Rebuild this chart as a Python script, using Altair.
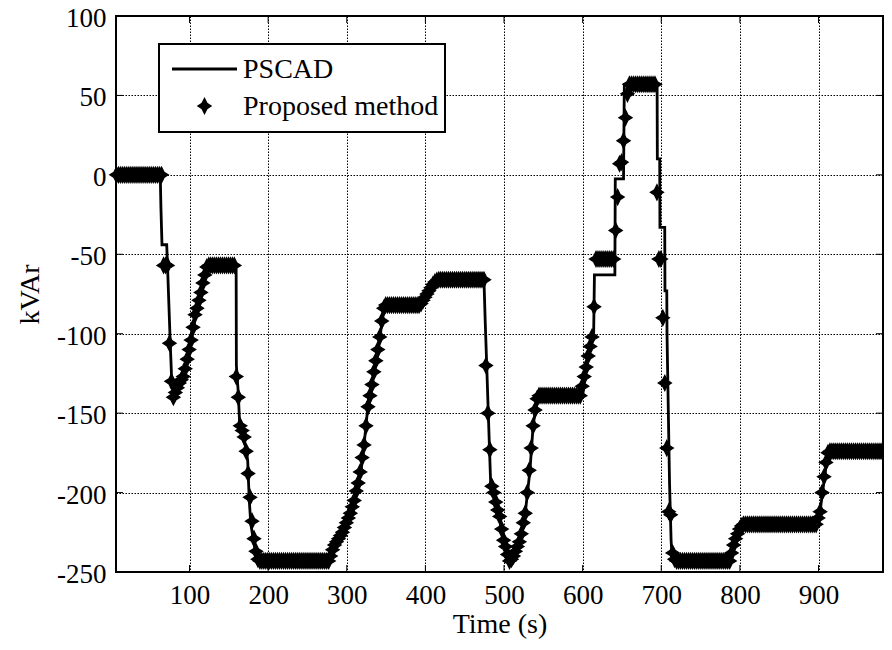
import altair as alt
import pandas as pd

# ---------------- data ----------------
# PSCAD reference trace (breakpoints, time in s, reactive power in kVAr)
line_t = [6.5, 62.8, 63.6, 65, 71, 72, 75.5, 77, 79, 81, 85, 90, 95, 100, 105, 110, 115, 120, 123,
          159.3, 159.6, 162, 164, 172, 174, 176, 178, 182, 185, 187, 278, 283, 295, 305, 312, 318,
          322, 326, 332, 340, 345, 348, 393, 405, 417, 474.5, 476, 478, 480, 483, 490, 500, 507,
          512, 520, 527, 533, 537, 542, 545, 600, 605, 612, 614, 615, 641, 641.5, 652, 653, 694.7,
          695, 698, 698.3, 704.4, 704.7, 707, 707.3, 710.5, 712.5, 714, 788, 792, 800, 805, 899,
          902, 905, 908, 910, 914, 915, 982]
line_v = [0, 0, -20, -44, -44, -57, -106, -125, -137, -138, -134, -129, -122, -110, -96, -84, -74, -63, -57,
          -57, -120, -137, -160, -172, -180, -205, -220, -232, -240, -243, -243, -236, -225, -213, -200, -187,
          -170, -150, -132, -110, -92, -82, -82, -73, -66, -66, -91, -120, -150, -194, -206, -230, -243,
          -240, -231, -213, -186, -158, -141, -139, -139, -121, -102, -100, -63, -63, -2.5, -2.5, 57, 57,
          10, 10, -33, -33, -73, -73, -100, -194, -230, -243, -243, -235, -225, -220, -220,
          -212, -200, -190, -181, -181, -174, -174]

# Proposed method: one sample every 2.5 s starting at t = 7 s
marker_t0 = 7.0
marker_dt = 2.5
marker_v = [
    0, 0, 0, 0, 0, 0, 0, 0, 0, 0, 0, 0, 0, 0, 0, 0, 0, 0, 0, 0, 0, 0, 0, 0,
    -57, -57, -57,
    -106,
    -130, -140, -137, -134, -131, -129, -127, -122, -116, -110, -104, -96, -88, -84, -79, -74, -68, -63, -58,
    -57, -57, -57, -57, -57, -57, -57, -57, -57, -57, -57, -57, -57, -57,
    -127, -140, -158, -161, -165, -174, -188, -203, -218, -229, -237, -242,
    -243, -243, -243, -243, -243, -243, -243, -243, -243, -243, -243, -243,
    -243, -243, -243, -243, -243, -243, -243, -243, -243, -243, -243, -243,
    -243, -243, -243, -243, -243, -243, -243, -243, -243, -243, -243, -243,
    -240, -236, -233, -231, -229, -227, -225, -222, -219, -216, -213, -209, -205, -199,
    -194, -187, -178, -170, -158, -146, -139, -132, -124, -117, -110, -102, -92, -84,
    -82, -82, -82, -82, -82, -82, -82, -82, -82, -82, -82, -82, -82, -82, -82, -82, -82, -82,
    -81, -79, -77, -75, -73, -71, -69, -67.5, -66.5,
    -66, -66, -66, -66, -66, -66, -66, -66, -66, -66, -66, -66,
    -66, -66, -66, -66, -66, -66, -66, -66, -66, -66, -66, -66,
    -120, -150, -173, -196, -200, -206, -211, -215, -223, -230, -234, -239, -243, -242,
    -240, -237, -234, -231, -226, -219, -213, -200, -186, -172, -158, -148, -141,
    -139, -139, -139, -139, -139, -139, -139, -139, -139, -139, -139,
    -139, -139, -139, -139, -139, -139, -139, -139, -139, -139, -139,
    -133, -127, -121, -114, -108, -102, -83,
    -53, -53, -53, -53, -53, -53, -53, -53, -53, -53,
    -35, -14, 7, 8, 21.5, 36, 51,
    57, 57, 57, 57, 57, 57, 57, 57, 57, 57, 57, 57, 57, 57,
    -11, -53, -53, -90, -131, -172, -212, -214, -238, -242,
    -243, -243, -243, -243, -243, -243, -243, -243, -243, -243, -243, -243, -243, -243,
    -243, -243, -243, -243, -243, -243, -243, -243, -243, -243, -243, -243, -243, -243,
    -238, -233, -229, -226, -223, -221,
    -220, -220, -220, -220, -220, -220, -220, -220, -220, -220, -220, -220, -220,
    -220, -220, -220, -220, -220, -220, -220, -220, -220, -220, -220, -220, -220,
    -220, -220, -220, -220, -220, -220, -220, -220, -220, -220, -220, -220,
    -216, -212, -200, -190, -181, -175,
    -174, -174, -174, -174, -174, -174, -174, -174, -174, -174, -174, -174, -174, -174,
    -174, -174, -174, -174, -174, -174, -174, -174, -174, -174, -174, -174, -174, -174,
]

x_ticks = [100, 200, 300, 400, 500, 600, 700, 800, 900]
y_ticks = [-250, -200, -150, -100, -50, 0, 50, 100]
legend_labels = ["PSCAD", "Proposed method"]
x_title = "Time (s)"
y_title = "kVAr"

# ---------------- chart ----------------
W, H = 767, 556
FONT = "Liberation Serif"
STAR = "M0,-1.1L0.36,-0.38L0.95,0L0.36,0.38L0,1.1L-0.36,0.38L-0.95,0L-0.36,-0.38Z"
MSIZE = 185

line_df = pd.DataFrame({"t": line_t, "v": line_v})
marker_df = pd.DataFrame({"t": [marker_t0 + marker_dt * i for i in range(len(marker_v))],
                          "v": marker_v})
xt_df = pd.DataFrame({"t": x_ticks})
yt_df = pd.DataFrame({"v": y_ticks})
one = pd.DataFrame({"a": [0]})

xs = alt.Scale(domain=[6.5, 982], nice=False, zero=False)
ys = alt.Scale(domain=[-250, 100], nice=False, zero=False)

common = dict(grid=True, gridColor="black", gridDash=[1.5, 1.5], gridWidth=1, gridOpacity=1,
              domain=False, ticks=False, labelFont=FONT, labelFontSize=27, labelColor="black",
              labelPadding=10, labelExpr="'' + datum.value", titleFont=FONT, titleFontSize=28,
              titleFontWeight="normal", titleColor="black", titleAlign="center",
              titleBaseline="middle")
x_axis = alt.Axis(values=x_ticks, title=x_title, titleX=W / 2, titleY=52, **common)
y_axis = alt.Axis(values=y_ticks, title=y_title, titleX=-86, titleY=H / 2, titleAngle=270,
                  labelOffset=2.5, **common)

line = alt.Chart(line_df).mark_line(color="black", strokeWidth=2.8).encode(
    x=alt.X("t:Q", scale=xs, axis=x_axis),
    y=alt.Y("v:Q", scale=ys, axis=y_axis),
    order="t:Q",
)
points = alt.Chart(marker_df).mark_point(
    shape=STAR, filled=True, size=MSIZE, fill="black", stroke="black", strokeWidth=1.4, opacity=1
).encode(x=alt.X("t:Q", scale=xs), y=alt.Y("v:Q", scale=ys))

tick_style = dict(color="black", strokeWidth=1)
xt_bottom = alt.Chart(xt_df).mark_rule(**tick_style).encode(
    x=alt.X("t:Q", scale=xs), y=alt.value(H), y2=alt.value(H - 7))
xt_top = alt.Chart(xt_df).mark_rule(**tick_style).encode(
    x=alt.X("t:Q", scale=xs), y=alt.value(0), y2=alt.value(7))
yt_left = alt.Chart(yt_df).mark_rule(**tick_style).encode(
    y=alt.Y("v:Q", scale=ys), x=alt.value(0), x2=alt.value(7))
yt_right = alt.Chart(yt_df).mark_rule(**tick_style).encode(
    y=alt.Y("v:Q", scale=ys), x=alt.value(W), x2=alt.value(W - 7))

# legend box
leg_box = alt.Chart(one).mark_rect(fill="white", stroke="black", strokeWidth=2).encode(
    x=alt.value(43), x2=alt.value(329), y=alt.value(28), y2=alt.value(116))
leg_line = alt.Chart(one).mark_rule(color="black", strokeWidth=2.8).encode(
    x=alt.value(56), x2=alt.value(121), y=alt.value(53))
leg_pt = alt.Chart(one).mark_point(
    shape=STAR, filled=True, size=MSIZE, fill="black", stroke="black", strokeWidth=1.4, opacity=1
).encode(x=alt.value(88.5), y=alt.value(90))
leg_t1 = alt.Chart(one).mark_text(text=legend_labels[0], align="left", baseline="middle",
                                  font=FONT, fontSize=28, color="black").encode(
    x=alt.value(127), y=alt.value(54))
leg_t2 = alt.Chart(one).mark_text(text=legend_labels[1], align="left", baseline="middle",
                                  font=FONT, fontSize=28, color="black").encode(
    x=alt.value(127), y=alt.value(91))

chart = alt.layer(
    line, points, xt_bottom, xt_top, yt_left, yt_right,
    leg_box, leg_line, leg_pt, leg_t1, leg_t2
).properties(
    width=W, height=H,
    autosize=alt.AutoSizeParams(type="none"),
    padding={"left": 108, "top": 8, "right": 1, "bottom": 70},
    background="white",
).configure_view(stroke="black", strokeWidth=2).configure_axis(
    labelFont=FONT, titleFont=FONT, labelFontSize=27, titleFontSize=28, labelColor="black",
    titleColor="black")

chart.save("out.html", embed_options={"renderer": "svg", "actions": False})
